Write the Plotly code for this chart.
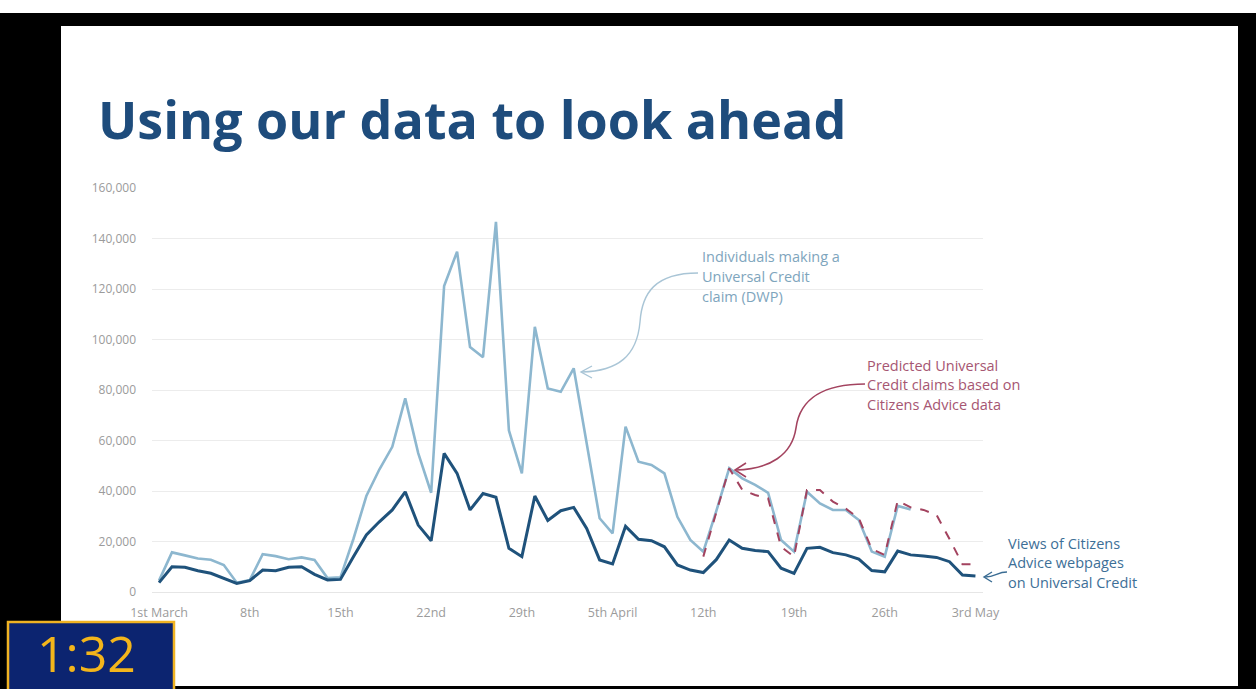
import plotly.graph_objects as go
import pandas as pd

# ---------------- data ----------------
start_date = "2020-03-01"
dates = [d.strftime("%Y-%m-%d") for d in pd.date_range(start_date, periods=64, freq="D")]

dwp_claims = [4500, 15700, 14500, 13300, 12800, 10700, 3700, 4700, 15000, 14200,
              13000, 13700, 12700, 5500, 5800, 21000, 38000, 48500, 57500, 76700,
              55000, 39300, 121200, 134800, 97000, 93000, 146600, 64000, 47000, 105000,
              80600, 79300, 88600, 59000, 29200, 23200, 65500, 51600, 50300, 47000,
              29800, 20600, 16000, 32000, 49000, 45000, 42400, 39300, 20600, 16000,
              39700, 35100, 32500, 32500, 28500, 16000, 14000, 34100, 32700]

ca_views = [3700, 10000, 9800, 8400, 7400, 5400, 3400, 4500, 8700, 8400,
            9800, 10000, 7000, 4800, 5000, 14000, 22600, 27800, 32500, 39700,
            26500, 20300, 54900, 47000, 32500, 39000, 37500, 17300, 14000, 38000,
            28300, 32200, 33500, 25200, 12700, 11100, 26000, 20900, 20300, 17900,
            10700, 8700, 7700, 12800, 20600, 17300, 16400, 16000, 9400, 7400,
            17300, 17700, 15600, 14700, 13000, 8500, 8000, 16200, 14700, 14300,
            13700, 12000, 6700, 6300]

pred_start = 42
predicted = [14000, 31500, 49000, 40500, 38400, 37100, 17900, 14000, 40400, 40400,
             35800, 33000, 29200, 17000, 14700, 36200, 33500, 32500, 30500, 21000,
             11000, 11000]

tick_dates = ["2020-03-01", "2020-03-08", "2020-03-15", "2020-03-22", "2020-03-29",
              "2020-04-05", "2020-04-12", "2020-04-19", "2020-04-26", "2020-05-03"]
tick_text = ["1st March", "8th", "15th", "22nd", "29th", "5th April", "12th", "19th", "26th", "3rd May"]
y_ticks = [0, 20000, 40000, 60000, 80000, 100000, 120000, 140000, 160000]

title_text = "Using our data to look ahead"
label_dwp = ["Individuals making a", "Universal Credit", "claim (DWP)"]
label_pred = ["Predicted Universal", "Credit claims based on", "Citizens Advice data"]
label_views = ["Views of Citizens", "Advice webpages", "on Universal Credit"]
timer_text = "1:32"

# ---------------- colours / geometry ----------------
C_LIGHT = "#8db7cf"
C_DARK = "#1f527b"
C_PRED = "#a3435f"
C_TITLE = "#1e4c7c"
W, H = 1256, 689
L, R, T, B = 152, 983, 188, 592   # plot area in pixels


def px(x):
    return (x - L) / (R - L)


def py(y):
    return (B - y) / (B - T)


def path(points, cmds):
    out = []
    it = iter(points)
    for c in cmds:
        if c in ("M", "L"):
            x, y = next(it)
            out.append(f"{c} {px(x):.5f},{py(y):.5f}")
        elif c == "C":
            pts = [next(it) for _ in range(3)]
            out.append("C " + " ".join(f"{px(a):.5f},{py(b):.5f}" for a, b in pts))
    return " ".join(out)


fig = go.Figure()

fig.add_trace(go.Scatter(x=dates[:len(dwp_claims)], y=dwp_claims, mode="lines",
                         line=dict(color=C_LIGHT, width=2.6), name="DWP claims"))
fig.add_trace(go.Scatter(x=dates[pred_start:pred_start + len(predicted)], y=predicted, mode="lines",
                         line=dict(color=C_PRED, width=2, dash="dash"), name="Predicted"))
fig.add_trace(go.Scatter(x=dates[:len(ca_views)], y=ca_views, mode="lines",
                         line=dict(color=C_DARK, width=3), name="Views"))

shapes = []
# black screen background + white slide
shapes.append(dict(type="rect", xref="paper", yref="paper", x0=px(0), x1=px(W), y0=py(13), y1=py(0),
                   fillcolor="white", line_width=0, layer="below"))
shapes.append(dict(type="rect", xref="paper", yref="paper", x0=px(61), x1=px(1238), y0=py(686), y1=py(26),
                   fillcolor="white", line_width=0, layer="below"))

# curved arrows
arrow_specs = [
    (["M", "C", "C"], [(698, 273), (655, 273), (642, 293), (640, 322), (637, 356), (618, 371), (582, 372)],
     [(592, 366), (581, 372), (592, 378)], "#a9c5d6", 1.4),
    (["M", "C", "C"], [(865, 384), (825, 384), (800, 398), (796, 428), (792, 455), (770, 469), (736, 470)],
     [(746, 463), (735, 470), (746, 477)], C_PRED, 1.6),
    (["M", "C"], [(1007, 572), (997, 572), (996, 577), (985, 577)],
     [(992, 572), (984, 577), (992, 582)], "#3a6c93", 1.4),
]
for cmds, pts, head, col, wd in arrow_specs:
    shapes.append(dict(type="path", xref="paper", yref="paper", path=path(pts, cmds),
                       line=dict(color=col, width=wd)))
    shapes.append(dict(type="path", xref="paper", yref="paper", path=path(head, ["M", "L", "L"]),
                       line=dict(color=col, width=wd)))

# timer box
shapes.append(dict(type="rect", xref="paper", yref="paper", x0=px(8), x1=px(174), y0=py(700), y1=py(622),
                   fillcolor="#0c2470", line=dict(color="#f0b323", width=2.5), layer="above"))

annotations = []
annotations.append(dict(text=f"<b>{title_text}</b>", xref="paper", yref="paper", x=px(96), y=py(118),
                        xanchor="left", yanchor="middle", showarrow=False,
                        font=dict(family="Open Sans", size=52, color=C_TITLE)))


def add_block(lines, x, y0, dy, color):
    for i, t in enumerate(lines):
        annotations.append(dict(text=t, xref="paper", yref="paper", x=px(x), y=py(y0 + i * dy),
                                xanchor="left", yanchor="middle", showarrow=False,
                                font=dict(family="Open Sans", size=14.5, color=color)))


add_block(label_dwp, 700, 256, 20, "#7ea5bd")
add_block(label_pred, 865, 365, 19.5, "#a65672")
add_block(label_views, 1006, 543, 19.5, "#3d6f97")

annotations.append(dict(text=timer_text, xref="paper", yref="paper", x=px(86), y=py(689),
                        xanchor="center", yanchor="bottom", showarrow=False,
                        font=dict(family="Open Sans", size=50, color="#f3b51b")))

fig.update_layout(
    width=W, height=H,
    margin=dict(l=L, r=W - R, t=T, b=H - B, pad=0),
    paper_bgcolor="black",
    plot_bgcolor="rgba(0,0,0,0)",
    showlegend=False,
    shapes=shapes,
    annotations=annotations,
    xaxis=dict(type="date", range=["2020-02-29 11:00", "2020-05-03 14:00"],
               tickvals=tick_dates, ticktext=tick_text, showgrid=False, zeroline=False,
               showline=False, ticks="", ticklabelstandoff=11,
               tickfont=dict(family="Open Sans", size=12.5, color="#9b9b9b")),
    yaxis=dict(range=[0, 160000], tickvals=y_ticks, tickformat=",d", showgrid=True,
               gridcolor="#ececec", gridwidth=1, zeroline=True, zerolinecolor="#e6e6e6",
               zerolinewidth=1, showline=False, ticks="", ticklabelstandoff=15,
               tickfont=dict(family="Open Sans", size=12, color="#9b9b9b")),
)

fig.write_html("out.html")
